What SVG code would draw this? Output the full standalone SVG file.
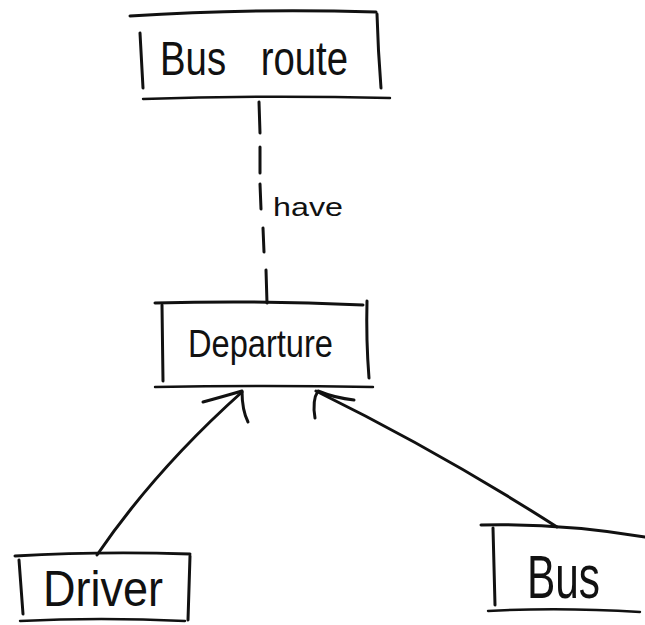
<svg xmlns="http://www.w3.org/2000/svg" width="645" height="625" viewBox="0 0 645 625">
  <style>
    .ink { fill: none; stroke: #111; stroke-width: 3; stroke-linecap: round; stroke-linejoin: round; }
    .thin { stroke-width: 2.4; }
    .label { font-family: "Liberation Sans", "DejaVu Sans", sans-serif; fill: #111; }
  </style>
  <rect x="0" y="0" width="645" height="625" fill="#ffffff"/>

  <!-- entity: Bus route -->
  <g id="bus-route">
    <path class="ink" d="M130 16 Q250 8 376 12"/>
    <path class="ink" d="M140 33 L143 88"/>
    <path class="ink" d="M377 14 Q378 50 381 88"/>
    <path class="ink thin" d="M143 99 Q260 95 390 98"/>
    <text class="label" x="160" y="75" font-size="48" word-spacing="30" textLength="188" lengthAdjust="spacingAndGlyphs">Bus route</text>
  </g>

  <!-- entity: Departure -->
  <g id="departure">
    <path class="ink" d="M155 303 Q260 300 363 305"/>
    <path class="ink" d="M162 305 L163 381"/>
    <path class="ink" d="M367 301 Q366 340 369 378"/>
    <path class="ink thin" d="M155 387 Q265 385 373 387"/>
    <text class="label" x="188" y="357" font-size="38" textLength="145" lengthAdjust="spacingAndGlyphs">Departure</text>
  </g>

  <!-- entity: Driver -->
  <g id="driver">
    <path class="ink" d="M15 556 Q100 551 190 554"/>
    <path class="ink" d="M19 560 L23 614"/>
    <path class="ink" d="M190 556 L188 620"/>
    <path class="ink thin" d="M20 621 Q100 617 185 621"/>
    <text class="label" x="43" y="606" font-size="50" textLength="120" lengthAdjust="spacingAndGlyphs">Driver</text>
  </g>

  <!-- entity: Bus -->
  <g id="bus">
    <path class="ink" d="M481 525 Q560 523 645 537"/>
    <path class="ink" d="M493 528 L495 605"/>
    <path class="ink thin" d="M488 611 Q560 607 640 612"/>
    <text class="label" x="527" y="598" font-size="62" textLength="73" lengthAdjust="spacingAndGlyphs">Bus</text>
  </g>

  <!-- relationships -->
  <g id="connectors">
    <!-- Bus route to Departure, dashed "have" -->
    <g class="ink">
      <path d="M259 102 L260 133"/>
      <path d="M260 147 L260 173"/>
      <path d="M260 184 L261 209"/>
      <path d="M263 228 L264 252"/>
      <path d="M266 270 L267 303"/>
    </g>
    <text class="label" x="273" y="216" font-size="26" textLength="70" lengthAdjust="spacingAndGlyphs">have</text>

    <!-- Driver to Departure -->
    <path class="ink" d="M97 555 Q155 470 242 392"/>
    <path class="ink" d="M203 402 Q225 396 242 391 Q242 410 248 422"/>

    <!-- Bus to Departure -->
    <path class="ink" d="M557 527 Q440 452 316 391"/>
    <path class="ink" d="M315 418 Q312 400 318 391 Q335 398 354 400"/>
  </g>
</svg>
